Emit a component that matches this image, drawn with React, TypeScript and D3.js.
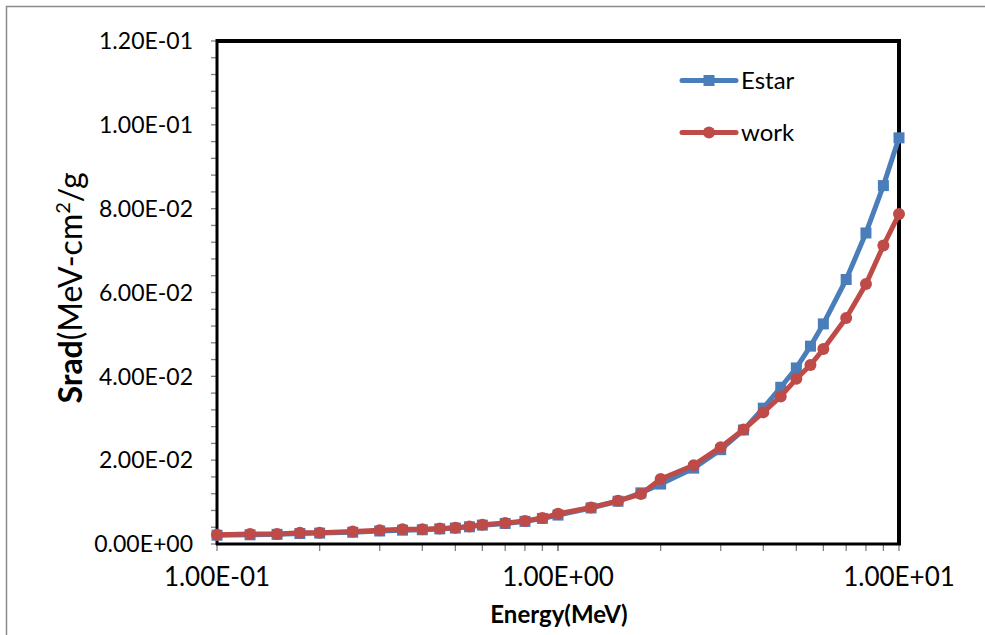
import React, { useEffect, useRef } from "react";
import * as d3 from "d3";

const energies = [0.1, 0.125, 0.15, 0.175, 0.2, 0.25, 0.3, 0.35, 0.4, 0.45, 0.5, 0.55, 0.6, 0.7, 0.8, 0.9, 1, 1.25, 1.5, 1.75, 2, 2.5, 3, 3.5, 4, 4.5, 5, 5.5, 6, 7, 8, 9, 10];
const estar = [0.0021, 0.0022, 0.0023, 0.0025, 0.0026, 0.0028, 0.0031, 0.0033, 0.0034, 0.0036, 0.0038, 0.0041, 0.0045, 0.0049, 0.0054, 0.0061, 0.0069, 0.0086, 0.0102, 0.0122, 0.0143, 0.0181, 0.0225, 0.0272, 0.0324, 0.0374, 0.042, 0.0472, 0.0525, 0.0631, 0.0742, 0.0855, 0.0969];
const work = [0.0022, 0.0024, 0.0024, 0.0027, 0.0027, 0.003, 0.0033, 0.0035, 0.0035, 0.0037, 0.0039, 0.0042, 0.0046, 0.005, 0.0055, 0.0062, 0.0072, 0.0087, 0.0103, 0.0119, 0.0155, 0.0188, 0.0231, 0.0273, 0.0314, 0.0352, 0.0394, 0.0427, 0.0465, 0.0539, 0.062, 0.0712, 0.0787];
const yTicks = [0, 0.02, 0.04, 0.06, 0.08, 0.1, 0.12];
const yTickLabels = ["0.00E+00", "2.00E-02", "4.00E-02", "6.00E-02", "8.00E-02", "1.00E-01", "1.20E-01"];
const xTicks = [0.1, 1, 10];
const xTickLabels = ["1.00E-01", "1.00E+00", "1.00E+01"];
const seriesNames = ["Estar", "work"];

const BLUE = "#4A7EBB";
const RED = "#BE4B48";
const FONT = "Lato, 'Open Sans', sans-serif";

export default function App() {
  const ref = useRef<SVGSVGElement>(null);
  useEffect(() => {
    const svg = d3.select(ref.current);
    svg.selectAll("*").remove();
    const L = 217, R = 899, T = 41, B = 544;
    const x = d3.scaleLog().domain([0.1, 10]).range([L, R]);
    const y = d3.scaleLinear().domain([0, 0.12]).range([B, T]);

    // outer border
    svg.append("path").attr("d", "M6.5,635 V6.5 H985").attr("fill", "none").attr("stroke", "#8c8c8c").attr("stroke-width", 1.5);

    // frame top & right
    svg.append("path").attr("d", `M${L},${T} H${R} V${B}`).attr("fill", "none").attr("stroke", "#000").attr("stroke-width", 4);

    // y minor ticks
    const yMinor = d3.range(0, 0.1201, 0.004);
    svg.append("g").selectAll("line").data(yMinor).join("line")
      .attr("x1", L - 6).attr("x2", L).attr("y1", d => y(d)).attr("y2", d => y(d))
      .attr("stroke", "#808080").attr("stroke-width", 1.3);
    // x minor ticks
    const xMinor: number[] = [];
    [0.1, 1].forEach(dec => { for (let k = 1; k <= 10; k++) xMinor.push(dec * k); });
    svg.append("g").selectAll("line").data(xMinor).join("line")
      .attr("x1", d => x(d)).attr("x2", d => x(d)).attr("y1", B).attr("y2", B + 7)
      .attr("stroke", "#808080").attr("stroke-width", 1.3);

    // axes lines
    svg.append("line").attr("x1", L).attr("x2", L).attr("y1", T - 2).attr("y2", B + 1).attr("stroke", "#000").attr("stroke-width", 3);
    svg.append("line").attr("x1", L - 1).attr("x2", R + 2).attr("y1", B).attr("y2", B).attr("stroke", "#000").attr("stroke-width", 3);

    // y tick labels
    svg.append("g").selectAll("text").data(yTicks).join("text")
      .attr("x", 193).attr("y", d => y(d)).attr("dy", "0.36em")
      .attr("text-anchor", "end").attr("font-family", FONT).attr("font-size", 23).attr("fill", "#000")
      .text((d, i) => yTickLabels[i]);
    // x tick labels
    svg.append("g").selectAll("text").data(xTicks).join("text")
      .attr("x", d => x(d)).attr("y", 577).attr("dy", "0.36em")
      .attr("text-anchor", "middle").attr("font-family", FONT).attr("font-size", 26).attr("fill", "#000")
      .text((d, i) => xTickLabels[i]);

    // axis titles
    svg.append("text").attr("x", 559).attr("y", 623).attr("text-anchor", "middle")
      .attr("font-family", FONT).attr("font-weight", "bold").attr("font-size", 24).text("Energy(MeV)");
    const yt = svg.append("text").attr("transform", "translate(82,288) rotate(-90)").attr("text-anchor", "middle")
      .attr("font-family", FONT).attr("font-size", 32);
    yt.append("tspan").attr("font-weight", "bold").text("Srad");
    yt.append("tspan").text("(MeV-cm");
    yt.append("tspan").attr("font-size", 20).attr("dy", -12).text("2");
    yt.append("tspan").attr("dy", 12).text("/g");

    const line = d3.line<number>().x((d, i) => x(energies[i])).y(d => y(d));
    // Estar
    svg.append("path").datum(estar).attr("d", line).attr("fill", "none").attr("stroke", BLUE).attr("stroke-width", 5).attr("stroke-linejoin", "round");
    svg.append("g").selectAll("rect").data(estar).join("rect")
      .attr("x", (d, i) => x(energies[i]) - 5.5).attr("y", d => y(d) - 5.5).attr("width", 11).attr("height", 11).attr("fill", BLUE);
    // work
    svg.append("path").datum(work).attr("d", line).attr("fill", "none").attr("stroke", RED).attr("stroke-width", 5).attr("stroke-linejoin", "round");
    svg.append("g").selectAll("circle").data(work).join("circle")
      .attr("cx", (d, i) => x(energies[i])).attr("cy", d => y(d)).attr("r", 6).attr("fill", RED);

    // legend
    const leg = svg.append("g");
    const items = [{ name: seriesNames[0], c: BLUE, ly: 80.5, sq: true }, { name: seriesNames[1], c: RED, ly: 132.5, sq: false }];
    items.forEach(it => {
      leg.append("line").attr("x1", 682).attr("x2", 736).attr("y1", it.ly).attr("y2", it.ly).attr("stroke", it.c).attr("stroke-width", 5).attr("stroke-linecap", "round");
      if (it.sq) leg.append("rect").attr("x", 703.5).attr("y", it.ly - 5.5).attr("width", 11).attr("height", 11).attr("fill", it.c);
      else leg.append("circle").attr("cx", 709).attr("cy", it.ly).attr("r", 6).attr("fill", it.c);
      leg.append("text").attr("x", 741).attr("y", it.ly).attr("dy", "0.36em").attr("font-family", FONT).attr("font-size", 24).text(it.name);
    });
  }, []);
  return (
    <svg ref={ref} width={985} height={635} style={{ position: "absolute", left: 0, top: 0, background: "#fff" }} />
  );
}
